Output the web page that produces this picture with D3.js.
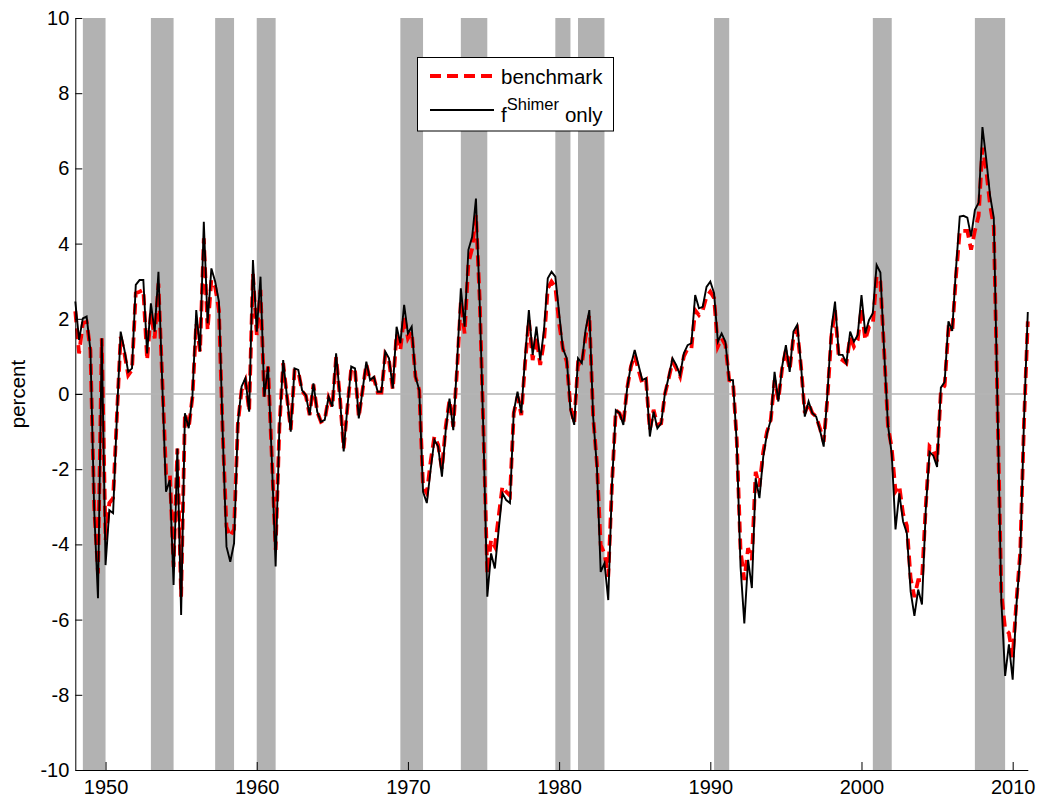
<!DOCTYPE html>
<html>
<head>
<meta charset="utf-8">
<script src="https://cdn.jsdelivr.net/npm/d3@7"></script>
<style>
  body { margin: 0; background: #fff; }
  svg { display: block; font-family: "Liberation Sans", Arial, sans-serif; }
</style>
</head>
<body>
<svg id="chart" width="1042" height="804"></svg>
<script>
// quarterly series, first point = 1948Q1
const startYear = 1948;

const benchmark = [
  2.2, 1.08, 1.88, 1.92, 1.17, -3.0, -4.77, 1.48, -3.88, -2.9,
  -2.77, -0.6, 1.52, 1.08, 0.5, 0.64, 2.68, 2.72, 2.77, 0.9,
  2.15, 1.48, 2.94, 0.4, -2.1, -2.07, -4.6, -1.45, -5.39, -0.51,
  -0.91, -0.07, 1.88, 1.13, 4.14, 1.7, 3.03, 2.85, 2.23, -1.05,
  -3.53, -3.79, -3.6, -0.8, 0.1, 0.35, -0.45, 3.2, 1.57, 2.77,
  -0.07, 0.73, -1.7, -4.15, -0.87, 0.82, -0.07, -0.95, 0.62, 0.6,
  0.08, -0.05, -0.56, 0.25, -0.47, -0.74, -0.69, -0.1, -0.34, 0.98,
  -0.07, -1.45, -0.34, 0.68, 0.64, -0.62, 0.1, 0.8, 0.35, 0.42,
  0.04, 0.04, 1.05, 0.88, 0.12, 1.6, 1.17, 2.06, 1.48, 1.66,
  0.46, 0.1, -2.46, -2.64, -1.8, -1.13, -1.35, -2.0, -0.87, -0.16,
  -0.87, 0.64, 2.46, 1.61, 3.48, 3.87, 4.76, 2.5, -1.05, -4.77,
  -3.88, -4.06, -3.26, -2.46, -2.6, -2.7, -0.51, -0.07, -0.56, 0.82,
  1.97, 0.9, 1.52, 0.77, 1.39, 2.81, 2.99, 2.85, 1.88, 1.21,
  0.86, -0.34, -0.78, 0.82, 0.77, 1.52, 2.1, -0.6, -1.85, -4.02,
  -4.24, -4.86, -2.38, -0.43, -0.51, -0.78, 0.15, 0.73, 1.04, 0.64,
  0.28, 0.37, -0.96, -0.42, -0.82, -0.78, 0.0, 0.42, 0.86, 0.68,
  0.46, 1.0, 1.21, 1.21, 2.23, 2.1, 2.23, 2.59, 2.72, 2.55,
  1.26, 1.48, 1.3, 0.37, 0.33, -1.22, -4.15, -4.95, -4.1, -4.41,
  -2.07, -2.46, -1.54, -1.0, -0.69, 0.37, -0.16, 0.68, 1.17, 0.64,
  1.52, 1.7, 0.73, -0.51, -0.25, -0.51, -0.6, -0.91, -1.27, -0.1,
  1.52, 2.23, 0.95, 0.9, 0.82, 1.52, 1.26, 1.44, 2.28, 1.44,
  1.79, 1.85, 3.13, 2.98, 1.12, -0.85, -1.44, -2.59, -2.44, -3.19,
  -3.5, -4.9, -5.4, -4.95, -4.95, -2.99, -1.39, -1.5, -1.79, 0.07,
  0.22, 1.73, 1.63, 3.13, 4.34, 4.34, 4.34, 3.84, 4.34, 4.74,
  6.55, 5.95, 5.04, 4.44, -0.4, -5.3, -6.25, -6.36, -7.0, -5.5,
  -4.2, -0.75, 1.93
];

const shimerOnly = [
  2.46, 1.44, 2.01, 2.06, 1.17, -3.09, -5.43, 1.48, -4.55, -3.09,
  -3.17, -0.6, 1.66, 1.17, 0.59, 0.68, 2.9, 3.03, 3.03, 1.08,
  2.41, 1.66, 3.25, 0.3, -2.6, -2.29, -5.08, -1.45, -5.88, -0.51,
  -0.91, -0.03, 2.23, 1.13, 4.58, 1.88, 3.34, 2.99, 2.46, -1.05,
  -4.06, -4.46, -3.97, -0.8, 0.2, 0.42, -0.47, 3.56, 1.66, 3.12,
  -0.07, 0.73, -1.76, -4.59, -0.87, 0.9, -0.07, -1.0, 0.68, 0.64,
  0.1, -0.03, -0.56, 0.28, -0.47, -0.74, -0.69, -0.07, -0.34, 1.08,
  -0.07, -1.53, -0.34, 0.73, 0.68, -0.65, 0.1, 0.86, 0.37, 0.46,
  0.06, 0.06, 1.13, 0.95, 0.15, 1.79, 1.35, 2.37, 1.61, 1.79,
  0.46, 0.1, -2.6, -2.9, -2.02, -1.22, -1.4, -2.2, -0.96, -0.12,
  -0.96, 0.82, 2.81, 1.79, 3.83, 4.18, 5.2, 2.4, -1.13, -5.39,
  -4.24, -4.64, -3.62, -2.64, -2.82, -2.9, -0.47, 0.06, -0.51, 0.99,
  2.23, 1.04, 1.79, 0.9, 1.7, 3.08, 3.25, 3.12, 2.15, 1.21,
  0.95, -0.43, -0.82, 0.95, 0.82, 1.7, 2.23, -0.6, -1.93, -4.73,
  -4.5, -5.48, -2.38, -0.43, -0.51, -0.82, 0.15, 0.77, 1.17, 0.77,
  0.37, 0.42, -1.13, -0.47, -0.91, -0.78, 0.02, 0.46, 0.95, 0.77,
  0.5, 1.08, 1.3, 1.35, 2.63, 2.28, 2.32, 2.85, 2.99, 2.68,
  1.39, 1.61, 1.39, 0.37, 0.37, -1.31, -4.59, -6.1, -4.41, -5.16,
  -2.24, -2.77, -1.67, -1.05, -0.69, 0.59, -0.2, 0.73, 1.3, 0.59,
  1.66, 1.84, 0.77, -0.6, -0.2, -0.51, -0.6, -0.96, -1.4, 0.02,
  1.7, 2.46, 1.04, 1.04, 0.82, 1.66, 1.39, 1.57, 2.63, 1.61,
  1.97, 2.15, 3.43, 3.23, 1.12, -0.83, -1.59, -3.6, -2.64, -3.39,
  -3.7, -5.25, -5.9, -5.2, -5.6, -3.09, -1.54, -1.64, -1.94, 0.17,
  0.32, 1.93, 1.68, 3.33, 4.72, 4.74, 4.69, 4.19, 4.89, 5.09,
  7.1, 6.25, 5.29, 4.69, -0.4, -5.5, -7.5, -6.66, -7.6, -5.6,
  -4.3, -0.68, 2.18
];

// shaded recessions [start, end] in years
const recessions = [
  [1948.5, 1950.0], [1953.0, 1954.5], [1957.25, 1958.5], [1960.0, 1961.25],
  [1969.5, 1971.0], [1973.5, 1975.25], [1979.75, 1980.75], [1981.25, 1983.0],
  [1990.25, 1991.25], [2000.75, 2002.0], [2007.5, 2009.5]
];

const xTicks = [1950, 1960, 1970, 1980, 1990, 2000, 2010];
const yTicks = [-10, -8, -6, -4, -2, 0, 2, 4, 6, 8, 10];

const width = 1042;
const height = 804;
const margin = { top: 18, right: 14.2, bottom: 34, left: 75.3 };

const svg = d3.select("#chart");

const x = d3
  .scaleLinear()
  .domain([1948, 2011])
  .range([margin.left, width - margin.right]);
const y = d3
  .scaleLinear()
  .domain([-10, 10])
  .range([height - margin.bottom, margin.top]);

// recession bars
svg
  .append("g")
  .selectAll("rect")
  .data(recessions)
  .enter()
  .append("rect")
  .attr("x", (d) => x(d[0]))
  .attr("width", (d) => x(d[1]) - x(d[0]))
  .attr("y", y(10))
  .attr("height", y(-10) - y(10))
  .attr("fill", "#b2b2b2");

// zero line
svg
  .append("line")
  .attr("x1", x(1948))
  .attr("x2", x(2011))
  .attr("y1", y(0))
  .attr("y2", y(0))
  .attr("stroke", "#b4b4b4")
  .attr("stroke-width", 1.5);

const line = d3
  .line()
  .x((d, i) => x(startYear + i / 4))
  .y((d) => y(d));

svg
  .append("path")
  .datum(benchmark)
  .attr("fill", "none")
  .attr("stroke", "#ff0000")
  .attr("stroke-width", 3.8)
  .attr("stroke-dasharray", "11,6")
  .attr("d", line);

svg
  .append("path")
  .datum(shimerOnly)
  .attr("fill", "none")
  .attr("stroke", "#000")
  .attr("stroke-width", 1.9)
  .attr("d", line);

// axes, ticks point inward; plain hyphen for negatives
const xAxis = d3
  .axisBottom(x)
  .tickValues(xTicks)
  .tickFormat((d) => String(d))
  .tickSizeInner(-8)
  .tickSizeOuter(0)
  .tickPadding(10);

const yAxis = d3
  .axisLeft(y)
  .tickValues(yTicks)
  .tickFormat((d) => String(d))
  .tickSizeInner(-7)
  .tickSizeOuter(0)
  .tickPadding(6);

const gx = svg
  .append("g")
  .attr("transform", `translate(0, ${height - margin.bottom})`)
  .call(xAxis);
const gy = svg
  .append("g")
  .attr("transform", `translate(${margin.left}, 0)`)
  .call(yAxis);

[gx, gy].forEach((g) => {
  g.select(".domain").attr("stroke", "#000").attr("stroke-width", 1);
  g.selectAll(".tick line").attr("stroke", "#000").attr("stroke-width", 1);
  g.selectAll(".tick text")
    .attr("fill", "#000")
    .style("font-size", "20px")
    .style("font-family", '"Liberation Sans", Arial, sans-serif');
});

svg
  .append("text")
  .attr("transform", `translate(24.5, ${y(0)}) rotate(-90)`)
  .attr("text-anchor", "middle")
  .style("font-size", "20.5px")
  .text("percent");

// legend
const legend = svg.append("g");
legend
  .append("rect")
  .attr("x", 417.5)
  .attr("y", 57.5)
  .attr("width", 196)
  .attr("height", 73.5)
  .attr("fill", "#fff")
  .attr("stroke", "#000")
  .attr("stroke-width", 1);

legend
  .append("line")
  .attr("x1", 430)
  .attr("x2", 494)
  .attr("y1", 76)
  .attr("y2", 76)
  .attr("stroke", "#ff0000")
  .attr("stroke-width", 3.8)
  .attr("stroke-dasharray", "11,6");

legend
  .append("text")
  .attr("x", 501)
  .attr("y", 83.5)
  .style("font-size", "20.5px")
  .text("benchmark");

legend
  .append("line")
  .attr("x1", 430)
  .attr("x2", 494)
  .attr("y1", 110)
  .attr("y2", 110)
  .attr("stroke", "#000")
  .attr("stroke-width", 1.9);

const lab = legend
  .append("text")
  .attr("x", 501)
  .attr("y", 122)
  .style("font-size", "20.5px");
lab.append("tspan").text("f");
lab
  .append("tspan")
  .attr("dy", -12)
  .style("font-size", "16.5px")
  .text("Shimer");
lab.append("tspan").attr("dy", 12).attr("dx", 6).text("only");
</script>
</body>
</html>
